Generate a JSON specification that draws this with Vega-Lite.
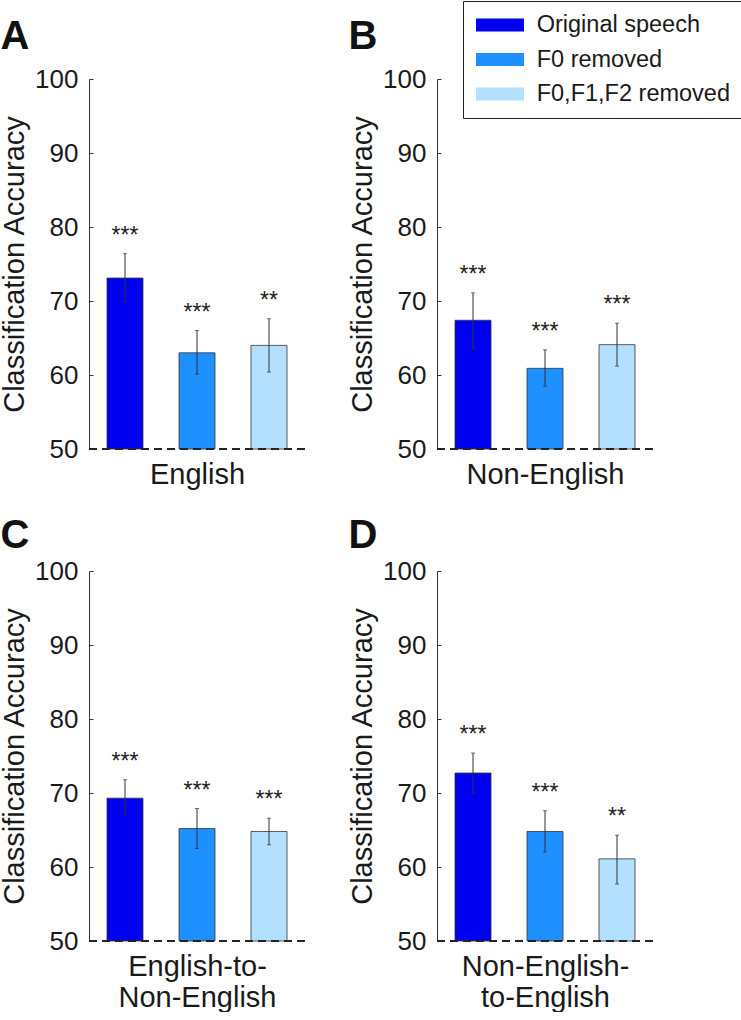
{
  "$schema": "https://vega.github.io/schema/vega-lite/v6.json",
  "padding": 0,
  "background": "white",
  "config": {
    "view": {"stroke": null},
    "font": "Liberation Sans",
    "legend": {"orient": "none", "legendX": 374, "legendY": -78},
    "title": {"fontSize": 40, "fontWeight": "bold", "anchor": "start", "frame": "bounds", "color": "#111"}
  },
  "data": {
    "values": [
      {"panel": "A", "condition": "Original speech", "acc": 73.1, "lo": 69.9, "hi": 76.4, "sig": "***"},
      {"panel": "A", "condition": "F0 removed", "acc": 63.0, "lo": 60.1, "hi": 66.0, "sig": "***"},
      {"panel": "A", "condition": "F0,F1,F2 removed", "acc": 64.0, "lo": 60.4, "hi": 67.6, "sig": "**"},
      {"panel": "B", "condition": "Original speech", "acc": 67.4, "lo": 63.6, "hi": 71.1, "sig": "***"},
      {"panel": "B", "condition": "F0 removed", "acc": 60.9, "lo": 58.5, "hi": 63.4, "sig": "***"},
      {"panel": "B", "condition": "F0,F1,F2 removed", "acc": 64.1, "lo": 61.2, "hi": 67.0, "sig": "***"},
      {"panel": "C", "condition": "Original speech", "acc": 69.3, "lo": 67.0, "hi": 71.8, "sig": "***"},
      {"panel": "C", "condition": "F0 removed", "acc": 65.2, "lo": 62.5, "hi": 67.9, "sig": "***"},
      {"panel": "C", "condition": "F0,F1,F2 removed", "acc": 64.8, "lo": 63.0, "hi": 66.6, "sig": "***"},
      {"panel": "D", "condition": "Original speech", "acc": 72.7, "lo": 70.0, "hi": 75.4, "sig": "***"},
      {"panel": "D", "condition": "F0 removed", "acc": 64.8, "lo": 62.05, "hi": 67.6, "sig": "***"},
      {"panel": "D", "condition": "F0,F1,F2 removed", "acc": 61.1, "lo": 57.7, "hi": 64.3, "sig": "**"}
    ]
  },
  "spacing": 27,
  "vconcat": [
    {
      "spacing": 42,
      "hconcat": [
        {
          "title": {"text": "A", "offset": 9},
          "width": 216, "height": 370,
          "transform": [{"filter": "datum.panel === 'A'"}],
          "layer": [
            {"mark": {"type": "bar", "stroke": "#333", "strokeWidth": 0.8},
             "encoding": {
               "x": {"field": "condition", "type": "nominal", "sort": ["Original speech", "F0 removed", "F0,F1,F2 removed"], "scale": {"paddingInner": 0.5, "paddingOuter": 0.25}, "axis": {"labels": false, "ticks": false, "domain": false, "title": "English", "titleFontSize": 29, "titleFontWeight": "normal", "titlePadding": 11, "titleColor": "#1a1a1a"}},
               "y": {"field": "acc", "type": "quantitative", "title": "Classification Accuracy", "scale": {"domain": [50, 100], "zero": false}, "axis": {"values": [50, 60, 70, 80, 90, 100], "grid": false, "titleFontSize": 29, "titleFontWeight": "normal", "titlePadding": 5, "titleColor": "#1a1a1a", "labelFontSize": 26, "labelColor": "#1a1a1a", "tickSize": -4, "labelPadding": 15, "domainColor": "#333", "tickColor": "#333"}},
               "y2": {"datum": 50},
               "color": {"field": "condition", "type": "nominal", "sort": ["Original speech", "F0 removed", "F0,F1,F2 removed"], "scale": {"domain": ["Original speech", "F0 removed", "F0,F1,F2 removed"], "range": ["#0000F0", "#1E90FF", "#B3E0FF"]}, "legend": {"title": null, "symbolType": "M-0.917,-0.54H3.083V0.54H-0.917Z", "symbolSize": 576, "symbolStrokeWidth": 0, "labelFontSize": 23.5, "labelLimit": 400, "labelColor": "#1a1a1a", "padding": 12, "rowPadding": 10.5, "labelOffset": 37.7, "strokeColor": "#222", "encode": {"legend": {"update": {"strokeWidth": {"value": 1.5}}}}}}
             }},
            {"mark": {"type": "errorbar", "color": "#333", "thickness": 1, "ticks": {"size": 4, "thickness": 1}},
             "encoding": {"x": {"field": "condition", "type": "nominal", "sort": ["Original speech", "F0 removed", "F0,F1,F2 removed"]}, "y": {"field": "lo", "type": "quantitative", "title": "Classification Accuracy"}, "y2": {"field": "hi"}}},
            {"mark": {"type": "text", "fontSize": 23, "dy": -11, "baseline": "alphabetic", "color": "#222"},
             "encoding": {"x": {"field": "condition", "type": "nominal", "sort": ["Original speech", "F0 removed", "F0,F1,F2 removed"]}, "y": {"field": "hi", "type": "quantitative", "title": "Classification Accuracy"}, "text": {"field": "sig"}}},
            {"mark": {"type": "rule", "strokeDash": [8, 5], "strokeWidth": 1.5, "color": "#222"},
             "encoding": {"y": {"datum": 50}}}
          ]
        },
        {
          "title": {"text": "B", "offset": 9},
          "width": 216, "height": 370,
          "transform": [{"filter": "datum.panel === 'B'"}],
          "layer": [
            {"mark": {"type": "bar", "stroke": "#333", "strokeWidth": 0.8},
             "encoding": {
               "x": {"field": "condition", "type": "nominal", "sort": ["Original speech", "F0 removed", "F0,F1,F2 removed"], "scale": {"paddingInner": 0.5, "paddingOuter": 0.25}, "axis": {"labels": false, "ticks": false, "domain": false, "title": "Non-English", "titleFontSize": 29, "titleFontWeight": "normal", "titlePadding": 11, "titleColor": "#1a1a1a"}},
               "y": {"field": "acc", "type": "quantitative", "title": "Classification Accuracy", "scale": {"domain": [50, 100], "zero": false}, "axis": {"values": [50, 60, 70, 80, 90, 100], "grid": false, "titleFontSize": 29, "titleFontWeight": "normal", "titlePadding": 5, "titleColor": "#1a1a1a", "labelFontSize": 26, "labelColor": "#1a1a1a", "tickSize": -4, "labelPadding": 15, "domainColor": "#333", "tickColor": "#333"}},
               "y2": {"datum": 50},
               "color": {"field": "condition", "type": "nominal", "sort": ["Original speech", "F0 removed", "F0,F1,F2 removed"], "scale": {"domain": ["Original speech", "F0 removed", "F0,F1,F2 removed"], "range": ["#0000F0", "#1E90FF", "#B3E0FF"]}}
             }},
            {"mark": {"type": "errorbar", "color": "#333", "thickness": 1, "ticks": {"size": 4, "thickness": 1}},
             "encoding": {"x": {"field": "condition", "type": "nominal", "sort": ["Original speech", "F0 removed", "F0,F1,F2 removed"]}, "y": {"field": "lo", "type": "quantitative", "title": "Classification Accuracy"}, "y2": {"field": "hi"}}},
            {"mark": {"type": "text", "fontSize": 23, "dy": -11, "baseline": "alphabetic", "color": "#222"},
             "encoding": {"x": {"field": "condition", "type": "nominal", "sort": ["Original speech", "F0 removed", "F0,F1,F2 removed"]}, "y": {"field": "hi", "type": "quantitative", "title": "Classification Accuracy"}, "text": {"field": "sig"}}},
            {"mark": {"type": "rule", "strokeDash": [8, 5], "strokeWidth": 1.5, "color": "#222"},
             "encoding": {"y": {"datum": 50}}}
          ]
        }
      ]
    },
    {
      "spacing": 42,
      "hconcat": [
        {
          "title": {"text": "C", "offset": 2},
          "width": 216, "height": 370,
          "transform": [{"filter": "datum.panel === 'C'"}],
          "layer": [
            {"mark": {"type": "bar", "stroke": "#333", "strokeWidth": 0.8},
             "encoding": {
               "x": {"field": "condition", "type": "nominal", "sort": ["Original speech", "F0 removed", "F0,F1,F2 removed"], "scale": {"paddingInner": 0.5, "paddingOuter": 0.25}, "axis": {"labels": false, "ticks": false, "domain": false, "title": ["English-to-", "Non-English"], "titleLineHeight": 31, "titleFontSize": 29, "titleFontWeight": "normal", "titlePadding": 11, "titleColor": "#1a1a1a"}},
               "y": {"field": "acc", "type": "quantitative", "title": "Classification Accuracy", "scale": {"domain": [50, 100], "zero": false}, "axis": {"values": [50, 60, 70, 80, 90, 100], "grid": false, "titleFontSize": 29, "titleFontWeight": "normal", "titlePadding": 5, "titleColor": "#1a1a1a", "labelFontSize": 26, "labelColor": "#1a1a1a", "tickSize": -4, "labelPadding": 15, "domainColor": "#333", "tickColor": "#333"}},
               "y2": {"datum": 50},
               "color": {"field": "condition", "type": "nominal", "sort": ["Original speech", "F0 removed", "F0,F1,F2 removed"], "scale": {"domain": ["Original speech", "F0 removed", "F0,F1,F2 removed"], "range": ["#0000F0", "#1E90FF", "#B3E0FF"]}}
             }},
            {"mark": {"type": "errorbar", "color": "#333", "thickness": 1, "ticks": {"size": 4, "thickness": 1}},
             "encoding": {"x": {"field": "condition", "type": "nominal", "sort": ["Original speech", "F0 removed", "F0,F1,F2 removed"]}, "y": {"field": "lo", "type": "quantitative", "title": "Classification Accuracy"}, "y2": {"field": "hi"}}},
            {"mark": {"type": "text", "fontSize": 23, "dy": -11, "baseline": "alphabetic", "color": "#222"},
             "encoding": {"x": {"field": "condition", "type": "nominal", "sort": ["Original speech", "F0 removed", "F0,F1,F2 removed"]}, "y": {"field": "hi", "type": "quantitative", "title": "Classification Accuracy"}, "text": {"field": "sig"}}},
            {"mark": {"type": "rule", "strokeDash": [8, 5], "strokeWidth": 1.5, "color": "#222"},
             "encoding": {"y": {"datum": 50}}}
          ]
        },
        {
          "title": {"text": "D", "offset": 2},
          "width": 216, "height": 370,
          "transform": [{"filter": "datum.panel === 'D'"}],
          "layer": [
            {"mark": {"type": "bar", "stroke": "#333", "strokeWidth": 0.8},
             "encoding": {
               "x": {"field": "condition", "type": "nominal", "sort": ["Original speech", "F0 removed", "F0,F1,F2 removed"], "scale": {"paddingInner": 0.5, "paddingOuter": 0.25}, "axis": {"labels": false, "ticks": false, "domain": false, "title": ["Non-English-", "to-English"], "titleLineHeight": 31, "titleFontSize": 29, "titleFontWeight": "normal", "titlePadding": 11, "titleColor": "#1a1a1a"}},
               "y": {"field": "acc", "type": "quantitative", "title": "Classification Accuracy", "scale": {"domain": [50, 100], "zero": false}, "axis": {"values": [50, 60, 70, 80, 90, 100], "grid": false, "titleFontSize": 29, "titleFontWeight": "normal", "titlePadding": 5, "titleColor": "#1a1a1a", "labelFontSize": 26, "labelColor": "#1a1a1a", "tickSize": -4, "labelPadding": 15, "domainColor": "#333", "tickColor": "#333"}},
               "y2": {"datum": 50},
               "color": {"field": "condition", "type": "nominal", "sort": ["Original speech", "F0 removed", "F0,F1,F2 removed"], "scale": {"domain": ["Original speech", "F0 removed", "F0,F1,F2 removed"], "range": ["#0000F0", "#1E90FF", "#B3E0FF"]}}
             }},
            {"mark": {"type": "errorbar", "color": "#333", "thickness": 1, "ticks": {"size": 4, "thickness": 1}},
             "encoding": {"x": {"field": "condition", "type": "nominal", "sort": ["Original speech", "F0 removed", "F0,F1,F2 removed"]}, "y": {"field": "lo", "type": "quantitative", "title": "Classification Accuracy"}, "y2": {"field": "hi"}}},
            {"mark": {"type": "text", "fontSize": 23, "dy": -11, "baseline": "alphabetic", "color": "#222"},
             "encoding": {"x": {"field": "condition", "type": "nominal", "sort": ["Original speech", "F0 removed", "F0,F1,F2 removed"]}, "y": {"field": "hi", "type": "quantitative", "title": "Classification Accuracy"}, "text": {"field": "sig"}}},
            {"mark": {"type": "rule", "strokeDash": [8, 5], "strokeWidth": 1.5, "color": "#222"},
             "encoding": {"y": {"datum": 50}}}
          ]
        }
      ]
    }
  ]
}
